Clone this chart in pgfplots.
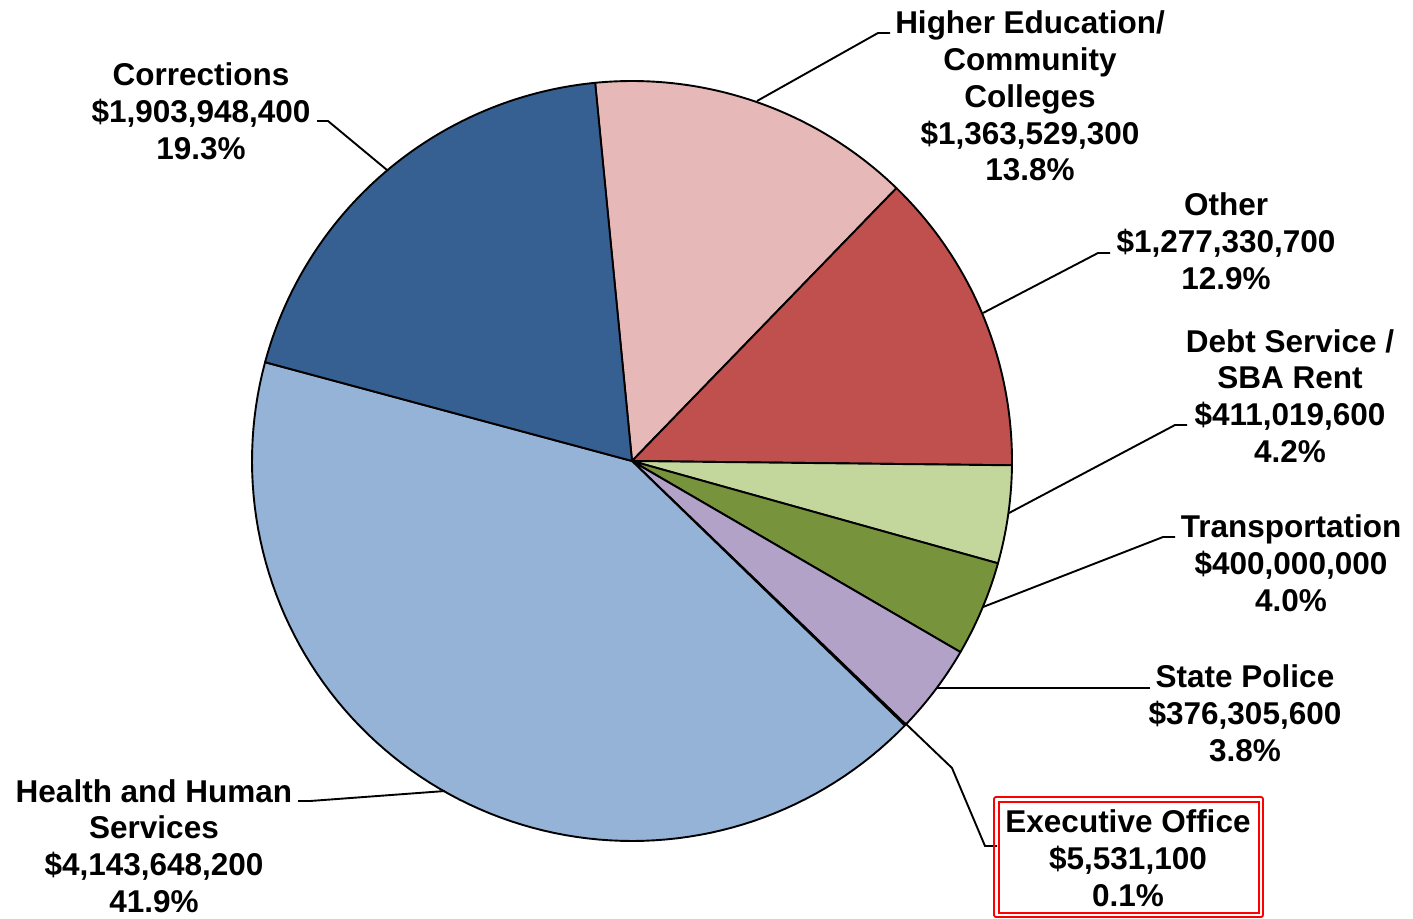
\documentclass[border=0pt]{standalone}
\usepackage{fontspec}
\setmainfont{Liberation Sans}
\usepackage{pgfplots}
\pgfplotsset{compat=1.18}
\definecolor{cCorr}{HTML}{376092}
\definecolor{cHE}{HTML}{E6B9B8}
\definecolor{cOth}{HTML}{C0504D}
\definecolor{cDebt}{HTML}{C3D69B}
\definecolor{cTrans}{HTML}{77933C}
\definecolor{cSP}{HTML}{B3A2C7}
\definecolor{cExec}{HTML}{8064A2}
\definecolor{cHHS}{HTML}{95B3D7}
% values in millions of dollars
\def\vHE{1363.5293}
\def\vOth{1277.3307}
\def\vDebt{411.0196}
\def\vTrans{400.0000}
\def\vSP{376.3056}
\def\vExec{5.5311}
\def\vHHS{4143.6482}
\def\vCorr{1903.9484}
\pgfmathsetmacro{\vTot}{\vHE+\vOth+\vDebt+\vTrans+\vSP+\vExec+\vHHS+\vCorr}
\pgfmathsetmacro{\aA}{95.58}
\pgfmathsetmacro{\aB}{\aA-\vHE/\vTot*360}
\pgfmathsetmacro{\aC}{\aB-\vOth/\vTot*360}
\pgfmathsetmacro{\aD}{\aC-\vDebt/\vTot*360}
\pgfmathsetmacro{\aE}{\aD-\vTrans/\vTot*360}
\pgfmathsetmacro{\aF}{\aE-\vSP/\vTot*360}
\pgfmathsetmacro{\aG}{\aF-\vExec/\vTot*360}
\pgfmathsetmacro{\aH}{\aG-\vHHS/\vTot*360}
\pgfmathsetmacro{\aI}{\aH-\vCorr/\vTot*360}
\tikzset{lab/.style={font=\fontsize{31.5}{36.8}\selectfont\bfseries,align=center,inner sep=0pt,anchor=center},
  leader/.style={line width=1.9pt,black}}
\pgfplotsset{pie/.style={draw=black,line width=1.9pt,samples=90,variable=\t,line join=round}}
\begin{document}
\begin{tikzpicture}
\begin{axis}[width=1413pt,height=918pt,scale only axis,
  xmin=0,xmax=1413,ymin=0,ymax=918,y dir=reverse,
  hide axis,clip=false]
\path (axis cs:0,0) rectangle (axis cs:1413,918);
\addplot[pie,fill=cHE,domain=\aB:\aA] ({632+380*cos(t)},{461-380*sin(t)}) -- (axis cs:632,461) -- cycle;
\addplot[pie,fill=cOth,domain=\aC:\aB] ({632+380*cos(t)},{461-380*sin(t)}) -- (axis cs:632,461) -- cycle;
\addplot[pie,fill=cDebt,domain=\aD:\aC] ({632+380*cos(t)},{461-380*sin(t)}) -- (axis cs:632,461) -- cycle;
\addplot[pie,fill=cTrans,domain=\aE:\aD] ({632+380*cos(t)},{461-380*sin(t)}) -- (axis cs:632,461) -- cycle;
\addplot[pie,fill=cSP,domain=\aF:\aE] ({632+380*cos(t)},{461-380*sin(t)}) -- (axis cs:632,461) -- cycle;
\addplot[pie,fill=cExec,samples=3,domain=\aG:\aF] ({632+380*cos(t)},{461-380*sin(t)}) -- (axis cs:632,461) -- cycle;
\addplot[pie,fill=cHHS,domain=\aH:\aG] ({632+380*cos(t)},{461-380*sin(t)}) -- (axis cs:632,461) -- cycle;
\addplot[pie,fill=cCorr,domain=\aI:\aH] ({632+380*cos(t)},{461-380*sin(t)}) -- (axis cs:632,461) -- cycle;
% leader lines
\draw[leader] (axis cs:317,121) -- (axis cs:328,121) -- (axis cs:387,170);
\draw[leader] (axis cs:890,33) -- (axis cs:878,33) -- (axis cs:757,101);
\draw[leader] (axis cs:1110,253) -- (axis cs:1098,253) -- (axis cs:983,313);
\draw[leader] (axis cs:1187,425) -- (axis cs:1175,425) -- (axis cs:1009,513);
\draw[leader] (axis cs:1175,537) -- (axis cs:1163,537) -- (axis cs:983,607);
\draw[leader] (axis cs:1150,688) -- (axis cs:937,688);
\draw[leader] (axis cs:905,723) -- (axis cs:952,768) -- (axis cs:985,846) -- (axis cs:997,846);
\draw[leader] (axis cs:298,801) -- (axis cs:310,801) -- (axis cs:445,791);
% Executive office box
\draw[red,line width=1.8pt,rounded corners=2pt] (axis cs:994,797) rectangle (axis cs:1263,917);
\draw[red,line width=1.8pt] (axis cs:999,802) rectangle (axis cs:1259,913);
% labels
\node[lab] at (axis cs:201,111) {Corrections\\\$1,903,948,400\\19.3\%};
\node[lab] at (axis cs:1030,96) {Higher Education/\\Community\\Colleges\\\$1,363,529,300\\13.8\%};
\node[lab] at (axis cs:1226,241) {Other\\\$1,277,330,700\\12.9\%};
\node[lab] at (axis cs:1290,396) {Debt Service /\\SBA Rent\\\$411,019,600\\4.2\%};
\node[lab] at (axis cs:1291,563) {Transportation\\\$400,000,000\\4.0\%};
\node[lab] at (axis cs:1245,713) {State Police\\\$376,305,600\\3.8\%};
\node[lab] at (axis cs:1128,858) {Executive Office\\\$5,531,100\\0.1\%};
\node[lab] at (axis cs:154,846) {Health and Human\\Services\\\$4,143,648,200\\41.9\%};
\end{axis}
\end{tikzpicture}
\end{document}
